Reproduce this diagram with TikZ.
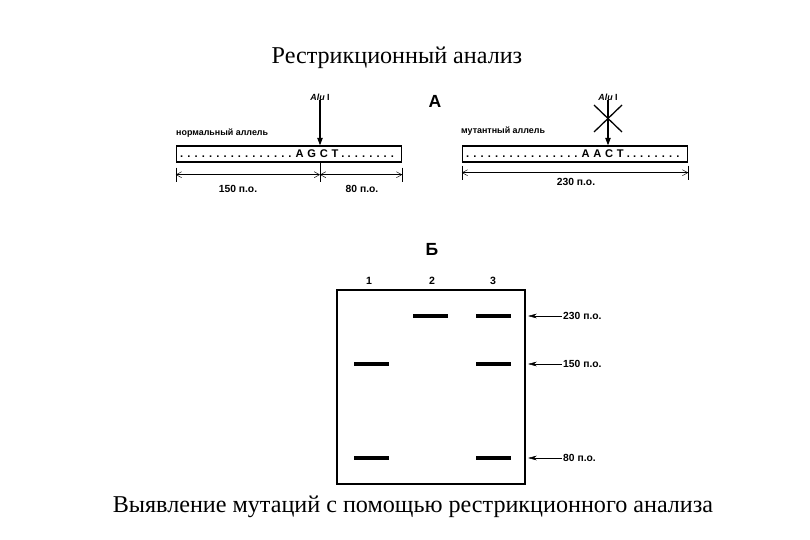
\documentclass[tikz,border=0pt]{standalone}
\usepackage{fontspec}
\setmainfont{Liberation Serif}
\setsansfont{Liberation Sans}
\usetikzlibrary{arrows.meta,positioning,calc}

\begin{document}
\begin{tikzpicture}[
    x=0.03cm, y=-0.03cm,
    heading/.style={font=\fontsize{20.6}{24}\selectfont, inner sep=0pt},
    panel/.style={font=\sffamily\bfseries\fontsize{15}{17}\selectfont, inner sep=0pt},
    tag/.style={font=\sffamily\bfseries\fontsize{7.6}{9}\selectfont, inner sep=0pt},
    size/.style={font=\sffamily\bfseries\fontsize{8.8}{10}\selectfont, inner sep=0pt},
    lane/.style={font=\sffamily\bfseries\fontsize{9}{10}\selectfont, inner sep=0pt},
    seq/.style={font=\sffamily\bfseries\fontsize{9.5}{10}\selectfont, inner sep=0pt},
    allele/.style={
        draw,
        line width=1.2pt,
        minimum width=6.75cm,
        minimum height=0.48cm,
        inner sep=0pt
    },
    gel/.style={
        draw,
        line width=1.3pt,
        minimum width=5.64cm,
        minimum height=5.82cm,
        inner sep=0pt
    },
    band/.style={fill=black, minimum width=1.05cm, minimum height=0.12cm, inner sep=0pt},
    dim/.style={{Straight Barb[length=1.6mm,width=1.8mm]}-{Straight Barb[length=1.6mm,width=1.8mm]}, thin},
    cut/.style={-{Triangle[length=2.2mm,width=1.6mm]}, line width=0.9pt},
    ptr/.style={-{Stealth[length=2.6mm,width=1.4mm]}, thin}
]
\useasboundingbox (0,0) rectangle (810,540);

% titles
\node[heading] (title) at (397,58) {Рестрикционный анализ};
\node[heading] (caption) at (413,507) {Выявление мутаций с помощью рестрикционного анализа};
\node[panel] (pa) at (435,101) {А};
\node[panel] (pb) at (432,249) {Б};

% normal allele
\node[allele] (norm) at (289,154) {};
\node[tag, anchor=base west] (normlab) at (176,136) {нормальный аллель};
\node[seq, anchor=base west] (normseq) at (180,158)
{. . . . . . . . . . . . . . . . A\,\,G\,\,C\,\,T . . . . . . . .};
\node[tag] (alun) at (320,97) {\textit{Alu} I};
\draw[cut] (alun.south) -- (alun.south |- norm.north);

\coordinate (nl) at ($(norm.south west)+(0,12)$);
\coordinate (nm) at ($(alun.south |- norm.south)+(0,12)$);
\coordinate (nr) at ($(norm.south east)+(0,12)$);
\draw (norm.south west) ++(0,5) -- ++(0,14);
\draw (alun.south |- norm.south) -- ++(0,19);
\draw (norm.south east) ++(0,5) -- ++(0,14);
\draw[dim] (nl) -- (nm);
\draw[dim] (nm) -- (nr);
\node[size] (n150) at (238,189) {150 п.о.};
\node[size] (n80) at (362,189) {80 п.о.};

% mutant allele
\node[allele] (mut) at (575,154) {};
\node[tag, anchor=base west] (mutlab) at (461,134) {мутантный аллель};
\node[seq, anchor=base west] (mutseq) at (466,158)
{. . . . . . . . . . . . . . . . A\,\,A\,\,C\,\,T . . . . . . . .};
\node[tag] (alum) at (608,97) {\textit{Alu} I};
\draw[cut] (alum.south) -- (alum.south |- mut.north);
\draw[line width=1.1pt] (594,105) -- (622,132);
\draw[line width=1.1pt] (622,105) -- (594,132);

\coordinate (ml) at ($(mut.south west)+(0,10)$);
\coordinate (mr) at ($(mut.south east)+(0,10)$);
\draw (mut.south west) ++(0,3) -- ++(0,14);
\draw (mut.south east) ++(0,3) -- ++(0,14);
\draw[dim] (ml) -- (mr);
\node[size] (m230) at (576,182) {230 п.о.};

% gel
\node[gel] (gel) at (431,387) {};
\node[lane] (lane1) at (369,281) {1};
\node[lane] (lane2) at (432,281) {2};
\node[lane] (lane3) at (493,281) {3};

\node[band] (b21) at (430.5,316) {};
\node[band] (b31) at (493.5,316) {};
\node[band] (b12) at (371.5,364) {};
\node[band] (b32) at (493.5,364) {};
\node[band] (b13) at (371.5,458) {};
\node[band] (b33) at (493.5,458) {};

\node[size, anchor=west] (s230) at (563,316) {230 п.о.};
\node[size, anchor=west] (s150) at (563,364) {150 п.о.};
\node[size, anchor=west] (s80) at (563,458) {80 п.о.};
\draw[ptr] ([xshift=-1pt]s230.west) -- ([xshift=2pt]gel.east |- s230.west);
\draw[ptr] ([xshift=-1pt]s150.west) -- ([xshift=2pt]gel.east |- s150.west);
\draw[ptr] ([xshift=-1pt]s80.west) -- ([xshift=2pt]gel.east |- s80.west);

\end{tikzpicture}
\end{document}
